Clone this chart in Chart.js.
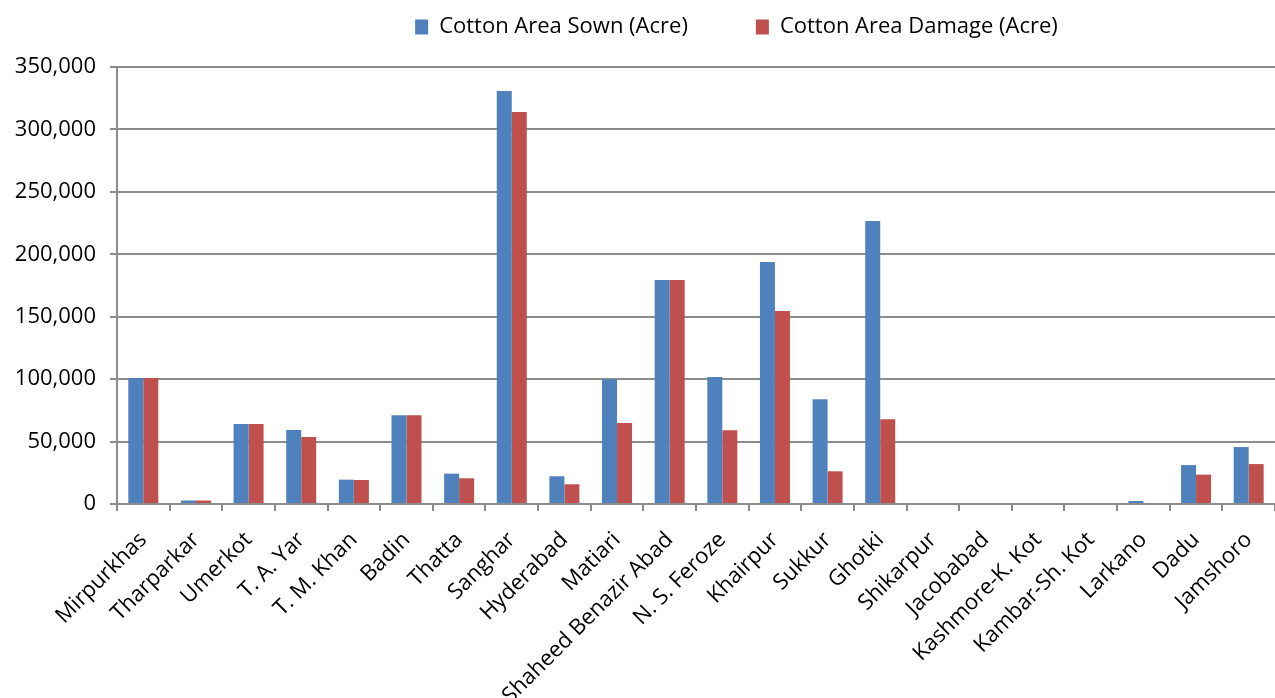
<!DOCTYPE html>
<html>
<head>
<meta charset="utf-8">
<script src="https://cdn.jsdelivr.net/npm/chart.js@4/dist/chart.umd.min.js"></script>
<style>
  html, body { margin: 0; background: #fff; }
  #wrap { width: 1275px; height: 698px; position: relative; }
</style>
</head>
<body>
<div id="wrap"><canvas id="chart"></canvas></div>
<script>
// ─── Data ────────────────────────────────────────────────────
const districts = [
  'Mirpurkhas', 'Tharparkar', 'Umerkot', 'T. A. Yar', 'T. M. Khan', 'Badin',
  'Thatta', 'Sanghar', 'Hyderabad', 'Matiari', 'Shaheed Benazir Abad',
  'N. S. Feroze', 'Khairpur', 'Sukkur', 'Ghotki', 'Shikarpur', 'Jacobabad',
  'Kashmore-K. Kot', 'Kambar-Sh. Kot', 'Larkano', 'Dadu', 'Jamshoro'
];
const areaSown = [
  101000, 2800, 64000, 59300, 19500, 71000,
  24300, 330700, 22200, 100000, 179400,
  101700, 193800, 83900, 226600, 0, 0,
  0, 0, 2400, 31200, 45600
];
const areaDamage = [
  101000, 2800, 64000, 53700, 19200, 71000,
  20600, 314000, 15800, 64900, 179400,
  59000, 154600, 26200, 67800, 0, 0,
  0, 0, 0, 23500, 32000
];
const seriesNames = ['Cotton Area Sown (Acre)', 'Cotton Area Damage (Acre)'];
const seriesColors = ['#4F81BD', '#C0504D'];
const yMax = 350000;
const yStep = 50000;

// ─── Style ───────────────────────────────────────────────────
const FONT = { family: "'Open Sans', 'Noto Sans', sans-serif", size: 22 };
const GRID = '#8c8c8c';

// legend in the reference sits right of centre and close to the top
const legendShift = {
  id: 'legendShift',
  afterLayout(chart) {
    const lg = chart.legend;
    if (!lg) return;
    lg.left += 99;
    lg.right += 99;
    lg.top -= 19;
    lg.bottom -= 19;
  },
};

new Chart(document.getElementById('chart'), {
  type: 'bar',
  data: {
    labels: districts,
    datasets: [
      { label: seriesNames[0], data: areaSown, backgroundColor: seriesColors[0] },
      { label: seriesNames[1], data: areaDamage, backgroundColor: seriesColors[1] },
    ],
  },
  options: {
    responsive: true,
    maintainAspectRatio: false,
    animation: false,
    layout: { padding: 0 },
    datasets: { bar: { categoryPercentage: 0.57, barPercentage: 1 } },
    plugins: {
      tooltip: { enabled: false },
      legend: {
        position: 'top',
        labels: {
          color: '#000',
          font: FONT,
          boxWidth: 13,
          boxHeight: 15,
          padding: 35,
          generateLabels(chart) {
            const items = Chart.defaults.plugins.legend.labels.generateLabels(chart);
            items[0].text += '\u2003\u2002';
            return items;
          },
        },
      },
    },
    scales: {
      x: {
        grid: { display: true, drawOnChartArea: false, color: GRID, lineWidth: 2, tickLength: 7, offset: true },
        border: { color: GRID, width: 2 },
        ticks: { color: '#000', font: FONT, autoSkip: false, maxRotation: 45, minRotation: 45, padding: 16 },
        afterFit(scale) {
          scale.height = 194;
          scale.paddingRight = 0;
        },
      },
      y: {
        min: 0,
        max: yMax,
        grid: { color: GRID, lineWidth: 2, tickLength: 7 },
        border: { color: GRID, width: 2 },
        ticks: {
          color: '#000',
          font: FONT,
          stepSize: yStep,
          padding: 14,
          callback: (v) => v.toLocaleString('en-US'),
        },
        afterFit(scale) { scale.width = 117; },
      },
    },
  },
  plugins: [legendShift],
});
</script>
</body>
</html>
